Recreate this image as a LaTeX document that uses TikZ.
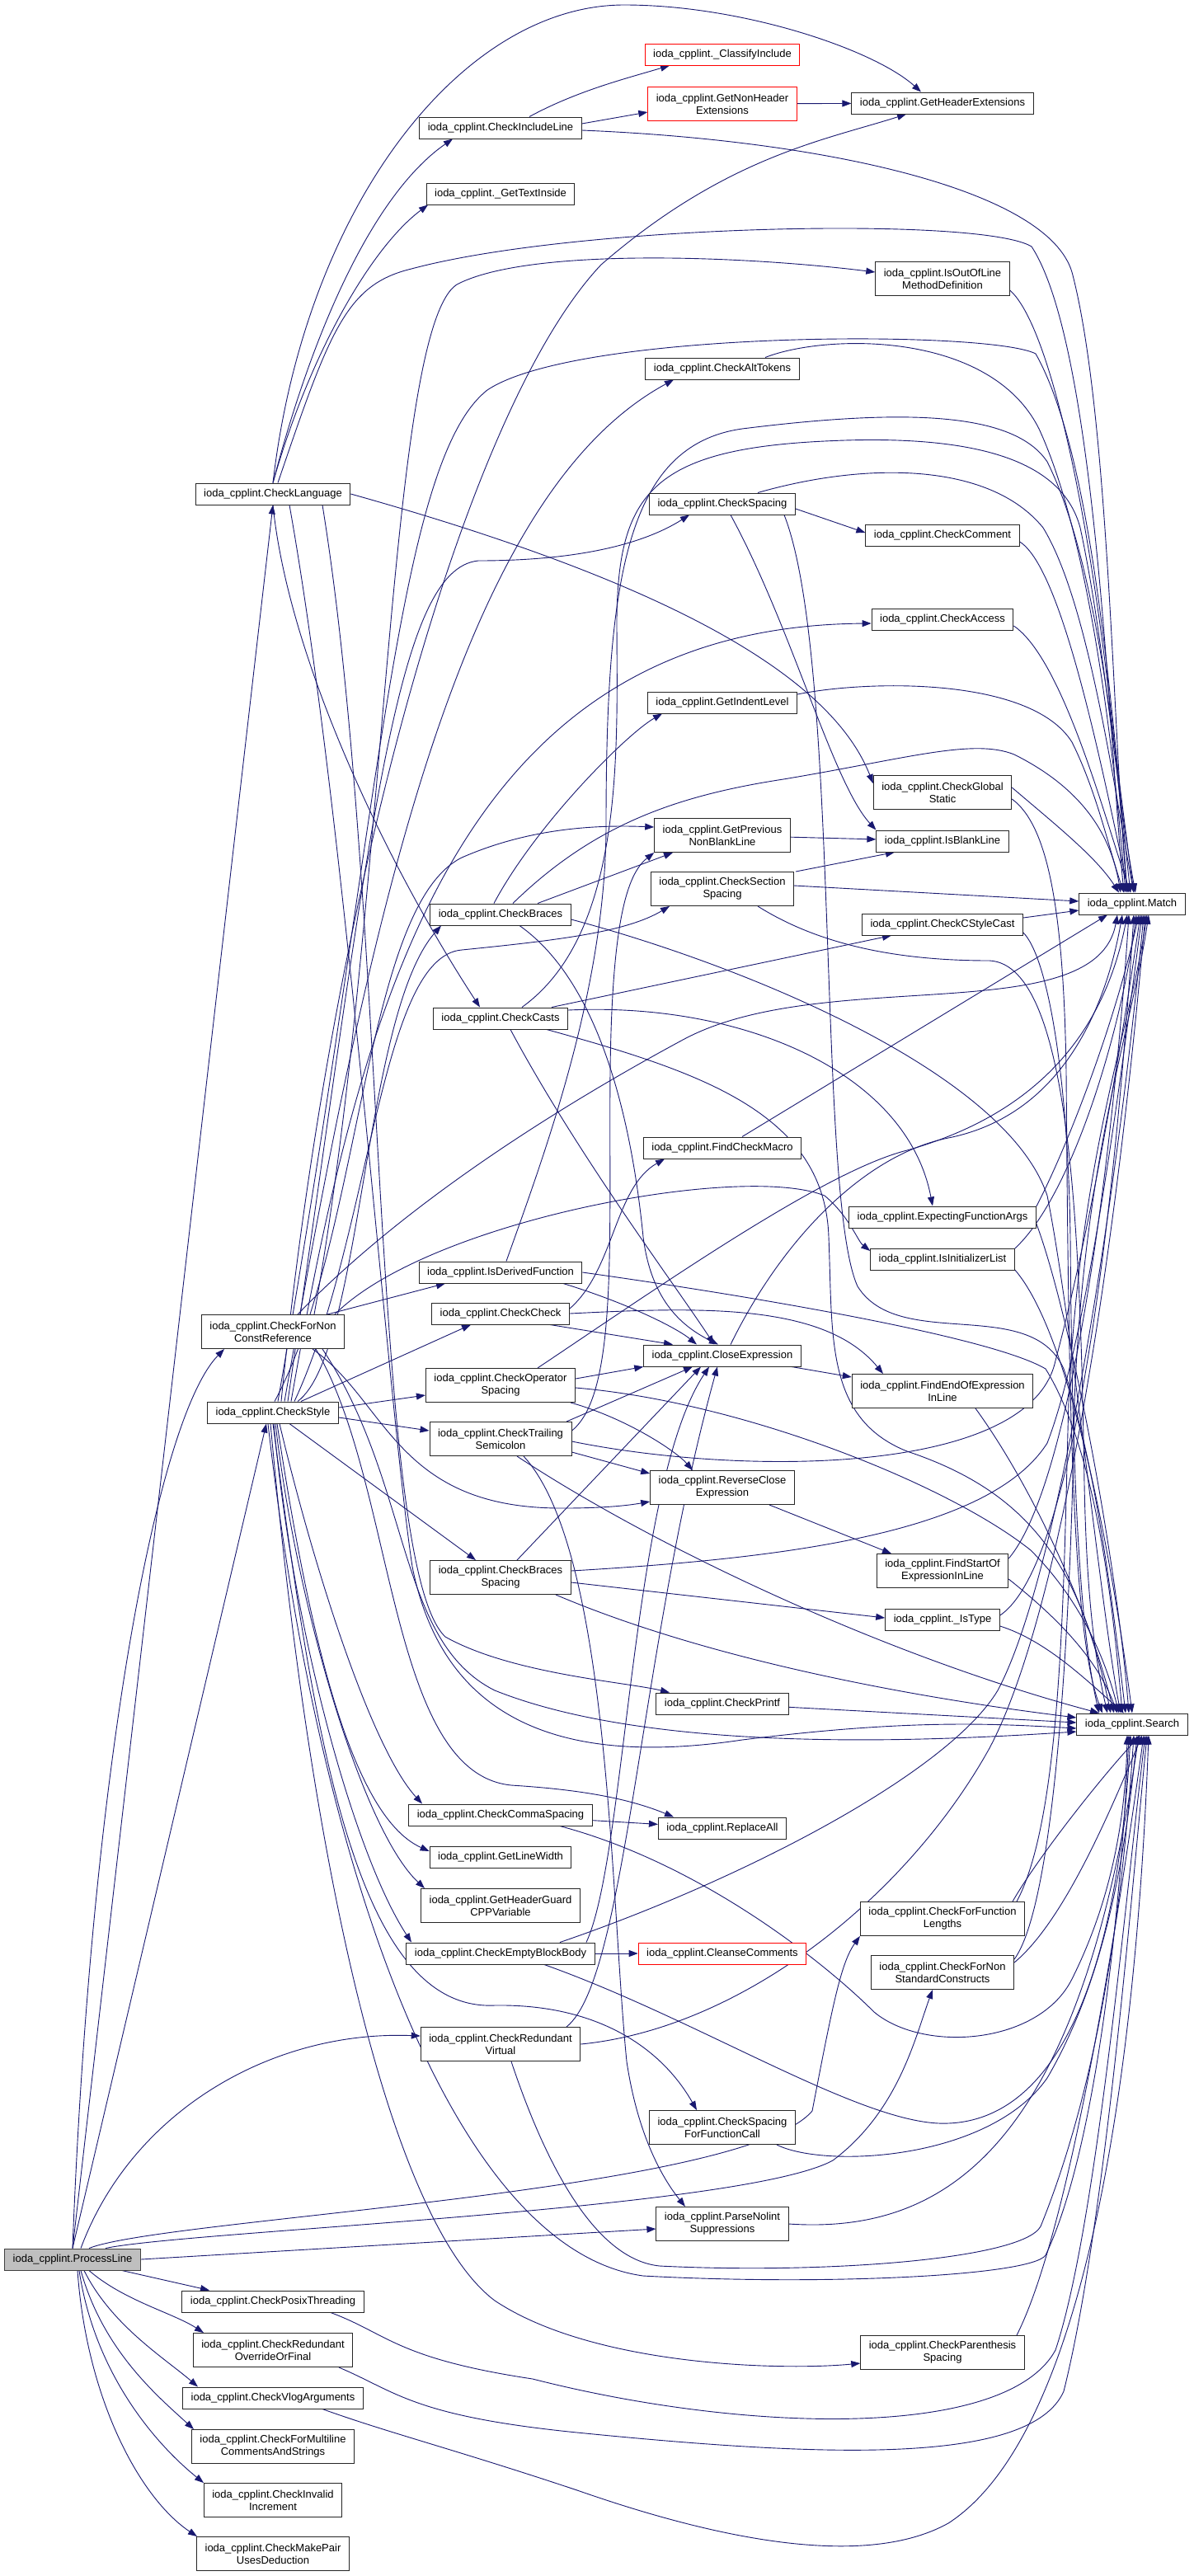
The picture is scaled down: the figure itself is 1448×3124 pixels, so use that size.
\documentclass[tikz,border=0pt]{standalone}
\usepackage{fontspec}
\setmainfont{Liberation Sans}
\usetikzlibrary{arrows.meta}
\usetikzlibrary{backgrounds}
\definecolor{edgeblue}{HTML}{191970}
\newcommand{\ioda}{ioda\_cpplint.}

\begin{document}
\begin{tikzpicture}[x=1pt, y=-1pt,
	fn/.style={draw=black!85, fill=white, line width=1pt, inner xsep=10pt, inner ysep=4pt,
			minimum height=26pt, align=center, font=\fontsize{13}{15}\selectfont},
	fntwo/.style={fn, minimum height=41pt},
	missing/.style={draw=red},
	current/.style={fill=black!25, draw=black!75},
	call/.style={draw=edgeblue, line width=0.9pt, -{Triangle[length=11pt,width=8pt]}}]
	\useasboundingbox (0,0) rectangle (1448,3124);

	% caller
	\node[fn, current] (processLine) at (88,2740) {\ioda ProcessLine};

	% first column of callees
	\node[fn] (checkLanguage) at (331,599) {\ioda CheckLanguage};
	\node[fntwo] (checkForNonConstRef) at (331,1615) {\ioda CheckForNon\\ConstReference};
	\node[fn] (checkStyle) at (331,1713) {\ioda CheckStyle};
	\node[fn] (checkPosixThreading) at (331,2791) {\ioda CheckPosixThreading};
	\node[fntwo] (checkRedundantOverride) at (331,2850) {\ioda CheckRedundant\\OverrideOrFinal};
	\node[fn] (checkVlogArguments) at (331,2908) {\ioda CheckVlogArguments};
	\node[fntwo] (checkForMultiline) at (331,2967) {\ioda CheckForMultiline\\CommentsAndStrings};
	\node[fntwo] (checkInvalidIncrement) at (331,3032) {\ioda CheckInvalid\\Increment};
	\node[fntwo] (checkMakePair) at (331,3097) {\ioda CheckMakePair\\UsesDeduction};

	% second column
	\node[fn] (checkIncludeLine) at (607,155) {\ioda CheckIncludeLine};
	\node[fn] (getTextInside) at (607,235) {\ioda \_GetTextInside};
	\node[fn] (checkBraces) at (607,1109) {\ioda CheckBraces};
	\node[fn] (checkCasts) at (607,1235) {\ioda CheckCasts};
	\node[fn] (isDerivedFunction) at (607,1543) {\ioda IsDerivedFunction};
	\node[fn] (checkCheck) at (607,1593) {\ioda CheckCheck};
	\node[fntwo] (checkOperatorSpacing) at (607,1680) {\ioda CheckOperator\\Spacing};
	\node[fntwo] (checkTrailingSemicolon) at (607,1745) {\ioda CheckTrailing\\Semicolon};
	\node[fntwo] (checkBracesSpacing) at (607,1913) {\ioda CheckBraces\\Spacing};
	\node[fn] (checkCommaSpacing) at (607,2201) {\ioda CheckCommaSpacing};
	\node[fn] (getLineWidth) at (607,2252) {\ioda GetLineWidth};
	\node[fntwo] (getHeaderGuard) at (607,2311) {\ioda GetHeaderGuard\\CPPVariable};
	\node[fn] (checkEmptyBlockBody) at (607,2369) {\ioda CheckEmptyBlockBody};
	\node[fntwo] (checkRedundantVirtual) at (607,2479) {\ioda CheckRedundant\\Virtual};

	% third column
	\node[fn, missing] (classifyInclude) at (876,66) {\ioda \_ClassifyInclude};
	\node[fntwo, missing] (getNonHeaderExt) at (876,126) {\ioda GetNonHeader\\Extensions};
	\node[fn] (checkAltTokens) at (876,447) {\ioda CheckAltTokens};
	\node[fn] (checkSpacing) at (876,611) {\ioda CheckSpacing};
	\node[fn] (getIndentLevel) at (876,852) {\ioda GetIndentLevel};
	\node[fntwo] (getPrevNonBlank) at (876,1013) {\ioda GetPrevious\\NonBlankLine};
	\node[fntwo] (checkSectionSpacing) at (876,1078) {\ioda CheckSection\\Spacing};
	\node[fn] (findCheckMacro) at (876,1392) {\ioda FindCheckMacro};
	\node[fn] (closeExpression) at (876,1644) {\ioda CloseExpression};
	\node[fntwo] (reverseClose) at (876,1804) {\ioda ReverseClose\\Expression};
	\node[fn] (checkPrintf) at (876,2066) {\ioda CheckPrintf};
	\node[fn] (replaceAll) at (876,2217) {\ioda ReplaceAll};
	\node[fn, missing] (cleanseComments) at (876,2369) {\ioda CleanseComments};
	\node[fntwo] (checkSpacingFuncCall) at (876,2580) {\ioda CheckSpacing\\ForFunctionCall};
	\node[fntwo] (parseNolint) at (876,2697) {\ioda ParseNolint\\Suppressions};

	% fourth column
	\node[fn] (getHeaderExt) at (1143,125) {\ioda GetHeaderExtensions};
	\node[fntwo] (isOutOfLine) at (1143,338) {\ioda IsOutOfLine\\MethodDefinition};
	\node[fn] (checkComment) at (1143,649) {\ioda CheckComment};
	\node[fn] (checkAccess) at (1143,751) {\ioda CheckAccess};
	\node[fntwo] (checkGlobalStatic) at (1143,961) {\ioda CheckGlobal\\Static};
	\node[fn] (isBlankLine) at (1143,1020) {\ioda IsBlankLine};
	\node[fn] (checkCStyleCast) at (1143,1121) {\ioda CheckCStyleCast};
	\node[fn] (expectingFuncArgs) at (1143,1476) {\ioda ExpectingFunctionArgs};
	\node[fn] (isInitializerList) at (1143,1527) {\ioda IsInitializerList};
	\node[fntwo] (findEndOfExpr) at (1143,1687) {\ioda FindEndOfExpression\\InLine};
	\node[fntwo] (findStartOfExpr) at (1143,1905) {\ioda FindStartOf\\ExpressionInLine};
	\node[fn] (isType) at (1143,1964) {\ioda \_IsType};
	\node[fntwo] (checkForFuncLengths) at (1143,2327) {\ioda CheckForFunction\\Lengths};
	\node[fntwo] (checkForNonStandard) at (1143,2392) {\ioda CheckForNon\\StandardConstructs};
	\node[fntwo] (checkParenSpacing) at (1143,2853) {\ioda CheckParenthesis\\Spacing};

	% leaves
	\node[fn] (match) at (1373,1096) {\ioda Match};
	\node[fn] (search) at (1373,2091) {\ioda Search};

	\begin{scope}[on background layer]
	% ProcessLine
	\draw[call] (processLine.north) -- (checkLanguage.south);
	\draw[call] (processLine.north) .. controls (110,2150) and (190,1720) .. ([xshift=-59pt]checkForNonConstRef.south);
	\draw[call] (processLine.north) -- ([xshift=-8pt]checkStyle.south);
	\draw[call] ([xshift=10pt]processLine.north) .. controls (160,2560) and (330,2462) .. ([yshift=10pt]checkRedundantVirtual.west);
	\draw[call] ([xshift=20pt]processLine.north) .. controls (200,2690) and (900,2660) .. (985,2560) .. controls (1010,2430) and (1020,2380) .. (checkForFuncLengths.south west);
	\draw[call] ([xshift=40pt]processLine.north) .. controls (230,2705) and (900,2680) .. (1010,2620) .. controls (1090,2560) and (1110,2470) .. ([xshift=-12pt]checkForNonStandard.south);
	\draw[call] (processLine.east) -- ([yshift=-6pt]parseNolint.west);
	\draw[call] ([xshift=60pt]processLine.south) -- ([xshift=-77pt]checkPosixThreading.north);
	\draw[call] ([xshift=20pt]processLine.south) .. controls (150,2790) and (210,2805) .. ([xshift=-84pt]checkRedundantOverride.north);
	\draw[call] ([xshift=14pt]processLine.south) .. controls (135,2820) and (200,2860) .. ([xshift=-91pt]checkVlogArguments.north);
	\draw[call] ([xshift=10pt]processLine.south) .. controls (125,2850) and (190,2905) .. ([xshift=-96pt]checkForMultiline.north);
	\draw[call] ([xshift=8pt]processLine.south) .. controls (115,2880) and (190,2965) .. ([xshift=-84pt]checkInvalidIncrement.north);
	\draw[call] ([xshift=6pt]processLine.south) .. controls (105,2910) and (170,3030) .. ([xshift=-92pt]checkMakePair.north);

	% CheckLanguage
	\draw[call] (checkLanguage.north) .. controls (385,380) and (460,230) .. ([xshift=-58pt]checkIncludeLine.south);
	\draw[call] (checkLanguage.north) .. controls (375,430) and (450,300) .. ([xshift=-88pt]getTextInside.south);
	\draw[call] (checkLanguage.north) .. controls (370,250) and (560,6) .. (757,6) .. controls (900,6) and (1060,60) .. ([xshift=-26pt]getHeaderExt.north);
	\draw[call] ([xshift=6pt]checkLanguage.north) .. controls (400,400) and (420,345) .. (499,326) .. controls (700,272) and (1190,262) .. (1251,299) .. controls (1330,420) and (1345,900) .. ([xshift=-10pt]match.north);
	\draw[call] (checkLanguage.south) .. controls (350,800) and (470,1050) .. ([xshift=-25pt]checkCasts.north);
	\draw[call] (checkLanguage.east) .. controls (750,690) and (1000,800) .. ([yshift=11pt]checkGlobalStatic.west);
	\draw[call] ([xshift=60pt]checkLanguage.south) .. controls (470,1100) and (450,1900) .. (540,1985) .. controls (620,2030) and (760,2040) .. ([xshift=-64pt]checkPrintf.north);
	\draw[call] ([xshift=20pt]checkLanguage.south) .. controls (420,1000) and (470,1700) .. (500,1900) .. controls (540,2100) and (700,2140) .. (900,2110) .. controls (1100,2085) and (1200,2090) .. ([yshift=-5pt]search.west);

	% CheckIncludeLine
	\draw[call] ([xshift=35pt]checkIncludeLine.north) .. controls (700,110) and (760,95) .. ([xshift=-64pt]classifyInclude.south);
	\draw[call] ([yshift=5pt]checkIncludeLine.east) -- ([yshift=-10pt]getNonHeaderExt.west);
	\draw[call] ([yshift=-3pt]checkIncludeLine.east) .. controls (1000,170) and (1270,230) .. (1300,330) .. controls (1345,500) and (1350,900) .. ([xshift=-6pt]match.north);
	\draw[call] (getNonHeaderExt) -- (getHeaderExt);

	% CheckStyle
	\draw[call] ([xshift=34pt]checkStyle.north) -- ([xshift=-36pt]checkCheck.south);
	\draw[call] ([yshift=6pt]checkStyle.east) -- ([yshift=-12pt]checkOperatorSpacing.west);
	\draw[call] ([yshift=-6pt]checkStyle.east) -- ([yshift=10pt]checkTrailingSemicolon.west);
	\draw[call] ([xshift=20pt]checkStyle.south) -- ([xshift=-30pt]checkBracesSpacing.north);
	\draw[call] ([xshift=30pt]checkStyle.north) .. controls (440,1640) and (440,1230) .. ([xshift=-72pt]checkBraces.south);
	\draw[call] ([xshift=26pt]checkStyle.north) .. controls (450,1500) and (460,1160) .. (560,1152) .. controls (680,1140) and (760,1130) .. ([xshift=-64pt]checkSectionSpacing.south);
	\draw[call] ([xshift=22pt]checkStyle.north) .. controls (440,1200) and (560,760) .. ([yshift=-5pt]checkAccess.west);
	\draw[call] ([xshift=18pt]checkStyle.north) .. controls (450,1000) and (480,690) .. (580,680) .. controls (700,680) and (780,660) .. ([xshift=-40pt]checkSpacing.south);
	\draw[call] ([xshift=14pt]checkStyle.north) .. controls (450,1100) and (560,600) .. ([xshift=-59pt]checkAltTokens.south);
	\draw[call] ([xshift=10pt]checkStyle.north) .. controls (400,1100) and (560,500) .. (729,321) .. controls (880,190) and (1000,170) .. ([xshift=-44pt]getHeaderExt.south);
	\draw[call] ([xshift=6pt]checkStyle.north) .. controls (460,1000) and (480,560) .. (591,473) .. controls (700,400) and (1200,400) .. (1256,429) .. controls (1330,560) and (1350,900) .. ([xshift=-2pt]match.north);
	\draw[call] ([xshift=2pt]checkStyle.north) .. controls (440,1500) and (440,1100) .. (560,1040) .. controls (640,1005) and (720,1000) .. ([yshift=10pt]getPrevNonBlank.west);
	\draw[call] ([xshift=5pt]checkStyle.south) .. controls (370,1950) and (420,2200) .. ([yshift=7pt]getLineWidth.west);
	\draw[call] ([xshift=8pt]checkStyle.south) .. controls (380,1900) and (450,2120) .. ([xshift=-95pt]checkCommaSpacing.north);
	\draw[call] ([xshift=3pt]checkStyle.south) .. controls (360,1950) and (440,2220) .. ([xshift=-92pt]getHeaderGuard.north);
	\draw[call] ([xshift=1pt]checkStyle.south) .. controls (355,1980) and (430,2250) .. ([xshift=-108pt]checkEmptyBlockBody.north);
	\draw[call] (checkStyle.south) .. controls (380,2100) and (430,2440) .. (600,2432) .. controls (720,2430) and (800,2480) .. ([xshift=-31pt]checkSpacingFuncCall.north);
	\draw[call] ([xshift=-3pt]checkStyle.south) .. controls (380,2300) and (480,2700) .. (600,2790) .. controls (720,2870) and (950,2875) .. ([yshift=-13pt]checkParenSpacing.west);
	\draw[call] ([xshift=-6pt]checkStyle.south) .. controls (390,2300) and (560,2730) .. (780,2760) .. controls (1000,2772) and (1250,2760) .. (1268,2735) .. controls (1332,2600) and (1360,2300) .. ([xshift=-4pt]search.south);

	% CheckForNonConstReference
	\draw[call] ([xshift=66pt]checkForNonConstRef.north) -- ([xshift=-67pt]isDerivedFunction.south);
	\draw[call] ([xshift=50pt]checkForNonConstRef.north) .. controls (470,1100) and (470,400) .. (554,345) .. controls (640,300) and (900,310) .. ([yshift=8pt]isOutOfLine.west);
	\draw[call] ([xshift=30pt]checkForNonConstRef.north) .. controls (500,1450) and (700,1330) .. (830,1260) .. controls (1000,1170) and (1330,1250) .. ([xshift=-18pt]match.south);
	\draw[call] ([xshift=75pt]checkForNonConstRef.north) .. controls (520,1480) and (900,1410) .. (1000,1450) .. controls (1030,1475) and (1040,1505) .. ([yshift=10pt]isInitializerList.west);
	\draw[call] ([xshift=48pt]checkForNonConstRef.south) .. controls (470,1700) and (480,1830) .. (683,1829) .. controls (730,1829) and (760,1826) .. ([yshift=-17pt]reverseClose.west);
	\draw[call] ([xshift=52pt]checkForNonConstRef.south) .. controls (480,1800) and (470,2150) .. (620,2165) .. controls (700,2170) and (760,2180) .. ([xshift=-59pt]replaceAll.north);
	\draw[call] ([xshift=60pt]checkForNonConstRef.south) .. controls (500,1800) and (480,1990) .. (600,2050) .. controls (800,2130) and (1150,2110) .. ([yshift=-9pt]search.west);

	% IsDerivedFunction
	\draw[call] ([xshift=7pt]isDerivedFunction.north) .. controls (660,1400) and (735,1200) .. (735,1000) .. controls (735,700) and (760,540) .. (900,520) .. controls (1100,495) and (1230,500) .. (1270,560) .. controls (1330,680) and (1350,900) .. ([xshift=2pt]match.north);
	\draw[call] ([xshift=76pt]isDerivedFunction.south) .. controls (760,1580) and (820,1610) .. ([xshift=-31pt]closeExpression.north);
	\draw[call] (isDerivedFunction.east) .. controls (900,1570) and (1200,1620) .. (1268,1660) .. controls (1330,1760) and (1350,1950) .. ([xshift=-12pt]search.north);

	% CheckCheck
	\draw[call] ([yshift=6pt]checkCheck.east) .. controls (745,1540) and (745,1440) .. ([xshift=-70pt]findCheckMacro.south);
	\draw[call] ([xshift=60pt]checkCheck.south) -- ([xshift=-60pt]closeExpression.north);
	\draw[call] (checkCheck.east) .. controls (850,1585) and (1000,1580) .. ([xshift=-72pt]findEndOfExpr.north);

	% expression helpers
	\draw[call] ([xshift=84pt]closeExpression.south) -- ([yshift=17pt]findEndOfExpr.west);
	\draw[call] ([xshift=10pt]closeExpression.north) .. controls (950,1500) and (1050,1400) .. (1150,1380) .. controls (1300,1350) and (1345,1200) .. ([xshift=-12pt]match.south);
	\draw[call] ([xshift=40pt]findEndOfExpr.south) .. controls (1250,1800) and (1320,1950) .. ([xshift=-22pt]search.north);
	\draw[call] ([xshift=57pt]reverseClose.south) -- ([xshift=-62pt]findStartOfExpr.north);
	\draw[call] ([yshift=15pt]findStartOfExpr.east) .. controls (1300,1800) and (1350,1400) .. ([xshift=-4pt]match.south);
	\draw[call] ([yshift=-10pt]findStartOfExpr.east) .. controls (1280,1960) and (1330,2010) .. ([xshift=-18pt]search.north);
	\draw[call] ([yshift=5pt]isType.east) .. controls (1300,1900) and (1350,1500) .. ([xshift=2pt]match.south);
	\draw[call] ([yshift=-8pt]isType.east) .. controls (1270,1990) and (1320,2040) .. ([xshift=-10pt]search.north);
	\draw[call] ([yshift=13pt]expectingFuncArgs.east) .. controls (1290,1400) and (1350,1250) .. ([xshift=8pt]match.south);
	\draw[call] ([yshift=-8pt]expectingFuncArgs.east) .. controls (1300,1600) and (1355,1900) .. ([xshift=-4pt]search.north);
	\draw[call] ([yshift=13pt]isInitializerList.east) .. controls (1300,1450) and (1360,1250) .. ([xshift=5pt]match.south);
	\draw[call] ([yshift=-13pt]isInitializerList.east) .. controls (1300,1620) and (1350,1900) .. (search.north);

	% CheckCasts
	\draw[call] ([xshift=62pt]checkCasts.north) -- ([xshift=-62pt]checkCStyleCast.south);
	\draw[call] ([yshift=10pt]checkCasts.east) .. controls (900,1215) and (1100,1300) .. ([xshift=-12pt]expectingFuncArgs.north);
	\draw[call] ([xshift=12pt]checkCasts.south) .. controls (700,1400) and (820,1560) .. ([xshift=-10pt]closeExpression.north);
	\draw[call] ([xshift=26pt]checkCasts.north) .. controls (760,1130) and (748,900) .. (748,750) .. controls (750,600) and (790,545) .. (1000,535) .. controls (1200,525) and (1290,565) .. (1310,640) .. controls (1340,780) and (1352,950) .. ([xshift=4pt]match.north);
	\draw[call] ([xshift=56pt]checkCasts.south) .. controls (850,1300) and (1000,1350) .. (1005,1500) .. controls (1010,1620) and (1000,1720) .. (1100,1760) .. controls (1250,1810) and (1310,1900) .. ([xshift=-26pt]search.north);
	\draw[call] ([yshift=8pt]checkCStyleCast.east) -- ([yshift=-8pt]match.west);
	\draw[call] ([yshift=-10pt]checkCStyleCast.east) .. controls (1270,1160) and (1295,1300) .. (1298,1500) .. controls (1300,1800) and (1310,1980) .. ([xshift=-40pt]search.north);

	% CheckGlobalStatic, CheckSectionSpacing
	\draw[call] ([yshift=6pt]checkGlobalStatic.east) .. controls (1280,1000) and (1330,1040) .. ([xshift=-16pt]match.north);
	\draw[call] ([yshift=-8pt]checkGlobalStatic.east) .. controls (1270,1000) and (1290,1100) .. (1293,1300) .. controls (1296,1700) and (1300,1980) .. ([xshift=-36pt]search.north);
	\draw[call] ([yshift=4pt]checkSectionSpacing.east) -- ([yshift=3pt]match.west);
	\draw[call] ([xshift=89pt]checkSectionSpacing.north) -- ([xshift=-58pt]isBlankLine.south);
	\draw[call] ([xshift=43pt]checkSectionSpacing.south) .. controls (1000,1150) and (1100,1165) .. (1200,1165) .. controls (1300,1170) and (1310,1500) .. (1315,1800) .. controls (1318,1950) and (1330,2020) .. ([xshift=-30pt]search.north);
	\draw[call] (getPrevNonBlank) -- (isBlankLine);

	% CheckBraces
	\draw[call] ([xshift=-8pt]checkBraces.north) .. controls (650,1000) and (760,890) .. ([xshift=-73pt]getIndentLevel.south);
	\draw[call] ([xshift=15pt]checkBraces.north) .. controls (720,1000) and (820,965) .. (950,945) .. controls (1100,920) and (1180,895) .. (1230,915) .. controls (1300,950) and (1345,1000) .. ([xshift=-14pt]match.north);
	\draw[call] ([xshift=45pt]checkBraces.north) -- ([xshift=-60pt]getPrevNonBlank.south);
	\draw[call] ([yshift=-6pt]checkBraces.east) .. controls (900,1170) and (1220,1300) .. (1270,1450) .. controls (1300,1600) and (1335,1950) .. ([xshift=-14pt]search.north);
	\draw[call] ([xshift=23pt]checkBraces.south) .. controls (740,1200) and (770,1400) .. (780,1500) .. controls (790,1580) and (830,1610) .. ([xshift=-5pt]closeExpression.north);

	% CheckOperatorSpacing
	\draw[call] ([yshift=8pt]checkOperatorSpacing.east) -- (closeExpression.south west);
	\draw[call] ([xshift=85pt]checkOperatorSpacing.south) .. controls (760,1720) and (820,1760) .. ([xshift=-36pt]reverseClose.north);
	\draw[call] ([yshift=-3pt]checkOperatorSpacing.east) .. controls (900,1700) and (1150,1800) .. (1250,1880) .. controls (1310,1940) and (1340,2010) .. ([xshift=-16pt]search.north);
	\draw[call] ([xshift=45pt]checkOperatorSpacing.north) .. controls (800,1560) and (1000,1420) .. (1100,1395) .. controls (1260,1350) and (1340,1250) .. ([xshift=-6pt]match.south);

	% CheckTrailingSemicolon
	\draw[call] ([yshift=10pt]checkTrailingSemicolon.east) .. controls (750,1690) and (738,1500) .. (740,1300) .. controls (742,1120) and (760,1060) .. (getPrevNonBlank.south west);
	\draw[call] ([xshift=80pt]checkTrailingSemicolon.north) -- ([xshift=-36pt]closeExpression.south);
	\draw[call] ([yshift=-3pt]checkTrailingSemicolon.east) .. controls (900,1790) and (1250,1790) .. (1280,1650) .. controls (1320,1500) and (1355,1300) .. ([xshift=10pt]match.south);
	\draw[call] ([yshift=-16pt]checkTrailingSemicolon.east) -- ([yshift=17pt]reverseClose.west);
	\draw[call] ([xshift=28pt]checkTrailingSemicolon.south) .. controls (740,1880) and (740,2300) .. (760,2500) .. controls (775,2600) and (810,2650) .. ([xshift=-45pt]parseNolint.north);
	\draw[call] ([xshift=20pt]checkTrailingSemicolon.south) .. controls (800,1880) and (1080,2010) .. ([xshift=-40pt]search.north);

	% CheckBracesSpacing
	\draw[call] ([xshift=20pt]checkBracesSpacing.north) -- ([xshift=-26pt]closeExpression.south);
	\draw[call] ([yshift=8pt]checkBracesSpacing.east) .. controls (950,1890) and (1200,1860) .. (1270,1750) .. controls (1320,1620) and (1360,1300) .. ([xshift=12pt]match.south);
	\draw[call] ([yshift=-6pt]checkBracesSpacing.east) -- ([yshift=2pt]isType.west);
	\draw[call] ([xshift=67pt]checkBracesSpacing.south) .. controls (900,2030) and (1200,2070) .. ([yshift=8pt]search.west);

	% lower callees of CheckStyle
	\draw[call] (checkPrintf) -- ([yshift=2pt]search.west);
	\draw[call] (checkCommaSpacing) -- (replaceAll);
	\draw[call] ([xshift=72pt]checkCommaSpacing.south) .. controls (850,2260) and (1000,2380) .. (1060,2440) .. controls (1120,2490) and (1260,2480) .. (1300,2400) .. controls (1350,2300) and (1365,2200) .. ([xshift=-6pt]search.south);
	\draw[call] (checkEmptyBlockBody) -- (cleanseComments);
	\draw[call] ([xshift=104pt]checkEmptyBlockBody.north) .. controls (760,2250) and (765,1800) .. ([xshift=-16pt]closeExpression.south);
	\draw[call] ([xshift=72pt]checkEmptyBlockBody.north) .. controls (900,2280) and (1150,2150) .. (1210,2050) .. controls (1290,1900) and (1360,1400) .. ([xshift=14pt]match.south);
	\draw[call] ([xshift=53pt]checkEmptyBlockBody.south) .. controls (850,2450) and (1050,2580) .. (1150,2575) .. controls (1280,2570) and (1355,2400) .. ([xshift=-2pt]search.south);
	\draw[call] ([xshift=80pt]checkRedundantVirtual.north) .. controls (760,2400) and (775,2000) .. ([xshift=-6pt]closeExpression.south);
	\draw[call] (checkRedundantVirtual.east) .. controls (900,2460) and (1100,2300) .. (1200,2120) .. controls (1290,1950) and (1355,1500) .. ([xshift=16pt]match.south);
	\draw[call] ([xshift=13pt]checkRedundantVirtual.south) .. controls (660,2620) and (720,2740) .. (800,2748) .. controls (1000,2758) and (1240,2740) .. (1262,2700) .. controls (1335,2520) and (1362,2300) .. ([xshift=2pt]search.south);
	\draw[call] ([xshift=66pt]checkSpacingFuncCall.south) .. controls (1000,2630) and (1200,2620) .. (1270,2520) .. controls (1340,2400) and (1365,2250) .. ([xshift=6pt]search.south);
	\draw[call] (parseNolint.east) .. controls (1150,2710) and (1310,2600) .. ([xshift=8pt]search.south);
	\draw[call] ([xshift=85pt]checkForFuncLengths.north) .. controls (1260,2250) and (1340,2150) .. ([xshift=10pt]search.south);
	\draw[call] ([xshift=90pt]checkForFuncLengths.north) .. controls (1290,2200) and (1290,1900) .. (1296,1700) .. controls (1310,1400) and (1370,1250) .. ([xshift=18pt]match.south);
	\draw[call] ([yshift=12pt]checkForNonStandard.east) .. controls (1290,2330) and (1345,2200) .. ([xshift=12pt]search.south);
	\draw[call] ([yshift=16pt]checkForNonStandard.east) .. controls (1285,2300) and (1300,1900) .. (1303,1700) .. controls (1315,1400) and (1372,1250) .. ([xshift=20pt]match.south);
	\draw[call] ([xshift=90pt]checkParenSpacing.north) .. controls (1300,2700) and (1360,2300) .. ([xshift=14pt]search.south);
	\draw[call] ([xshift=70pt]checkPosixThreading.south) .. controls (470,2830) and (480,2860) .. (646,2885) .. controls (900,2950) and (1220,2960) .. (1280,2850) .. controls (1330,2700) and (1365,2300) .. ([xshift=16pt]search.south);
	\draw[call] ([xshift=80pt]checkRedundantOverride.south) .. controls (480,2900) and (500,2930) .. (700,2950) .. controls (1000,2980) and (1250,2990) .. (1290,2900) .. controls (1340,2700) and (1372,2300) .. ([xshift=18pt]search.south);
	\draw[call] ([xshift=60pt]checkVlogArguments.south) .. controls (470,2950) and (550,2970) .. (700,3020) .. controls (900,3090) and (1060,3110) .. (1150,3060) .. controls (1320,2950) and (1378,2500) .. ([xshift=20pt]search.south);

	% CheckSpacing and its neighbours
	\draw[call] ([yshift=-6pt]checkSpacing.east) -- ([yshift=3pt]checkComment.west);
	\draw[call] ([xshift=10pt]checkSpacing.south) .. controls (960,760) and (1010,950) .. (isBlankLine.north west);
	\draw[call] ([xshift=43pt]checkSpacing.north) .. controls (1050,560) and (1200,560) .. (1265,640) .. controls (1320,730) and (1350,950) .. ([xshift=2pt]match.north);
	\draw[call] ([xshift=75pt]checkSpacing.south) .. controls (1020,800) and (990,1450) .. (1040,1560) .. controls (1090,1640) and (1250,1570) .. (1290,1660) .. controls (1330,1780) and (1350,1950) .. ([xshift=-8pt]search.north);
	\draw[call] ([yshift=-8pt]checkComment.east) .. controls (1290,690) and (1340,950) .. ([xshift=-4pt]match.north);
	\draw[call] ([yshift=-8pt]checkAccess.east) .. controls (1290,800) and (1342,1000) .. ([xshift=-2pt]match.north);
	\draw[call] ([yshift=10pt]getIndentLevel.east) .. controls (1050,825) and (1250,820) .. (1300,900) .. controls (1330,960) and (1345,1030) .. ([xshift=-10pt]match.north);
	\draw[call] ([yshift=-14pt]isOutOfLine.east) .. controls (1280,400) and (1340,700) .. ([xshift=-6pt]match.north);
	\draw[call] ([xshift=52pt]checkAltTokens.north) .. controls (1000,405) and (1200,400) .. (1260,520) .. controls (1320,650) and (1350,900) .. ([xshift=-8pt]match.north);
	\draw[call] ([xshift=24pt]findCheckMacro.north) -- ([xshift=-30pt]match.south);
	\end{scope}
\end{tikzpicture}
\end{document}
